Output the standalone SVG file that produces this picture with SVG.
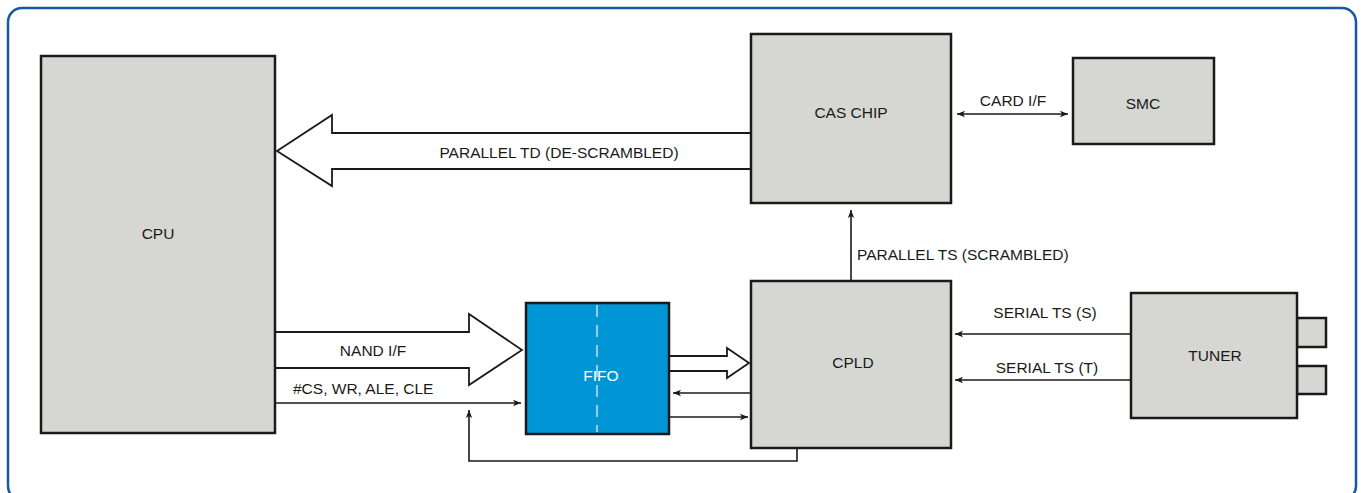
<svg xmlns="http://www.w3.org/2000/svg" width="1361" height="493" viewBox="0 0 1361 493">
<defs>
<style>
.box{fill:#d6d6d2;stroke:#1a1a1a;stroke-width:2.5}
.lbl{font-family:"Liberation Sans",Arial,sans-serif;font-size:15.5px;fill:#1a1a1a}
.mid{text-anchor:middle;dominant-baseline:central}
.wire{fill:none;stroke:#1a1a1a;stroke-width:1.6}
.big{fill:#fff;stroke:#1a1a1a;stroke-width:1.8;stroke-linejoin:miter}
</style>
<marker id="ah" viewBox="0 0 10 10" refX="10" refY="5" markerWidth="10" markerHeight="8" markerUnits="userSpaceOnUse" orient="auto-start-reverse">
<path d="M0,1 L10,5 L0,9 L2.5,5 Z" fill="#1a1a1a"/>
</marker>
</defs>
<rect x="8" y="8" width="1348" height="492" rx="14" fill="#fff" stroke="#155a9c" stroke-width="2.5"/>

<g id="connectors">
<path class="big" d="M751,133 L332,133 L332,115 L277,151 L332,186 L332,169 L751,169"/>
<path class="big" d="M275,332 L469,332 L469,314 L522,350 L469,385 L469,368 L275,368"/>
<path class="big" d="M669,356 L727,356 L727,348 L749,363 L727,378 L727,371 L669,371"/>
<line class="wire" x1="275" y1="403" x2="521" y2="403" marker-end="url(#ah)"/>
<polyline class="wire" points="797,448 797,461 469,461 469,410" marker-end="url(#ah)"/>
<line class="wire" x1="751" y1="393" x2="673" y2="393" marker-end="url(#ah)"/>
<line class="wire" x1="669" y1="417" x2="748" y2="417" marker-end="url(#ah)"/>
<line class="wire" x1="851" y1="280" x2="851" y2="210" marker-end="url(#ah)"/>
<line class="wire" x1="957" y1="114" x2="1068" y2="114" marker-start="url(#ah)" marker-end="url(#ah)"/>
<line class="wire" x1="1131" y1="334" x2="955" y2="334" marker-end="url(#ah)"/>
<line class="wire" x1="1131" y1="380" x2="955" y2="380" marker-end="url(#ah)"/>
<text class="lbl mid" x="559" y="152">PARALLEL TD (DE-SCRAMBLED)</text>
<text class="lbl mid" x="373" y="350">NAND I/F</text>
<text class="lbl" x="293" y="394">#CS, WR, ALE, CLE</text>
<text class="lbl" x="857" y="260">PARALLEL TS (SCRAMBLED)</text>
<text class="lbl mid" x="1013" y="100">CARD I/F</text>
<text class="lbl mid" x="1045" y="312">SERIAL TS (S)</text>
<text class="lbl mid" x="1047" y="367">SERIAL TS (T)</text>
</g>

<g id="cpu">
<rect class="box" x="41" y="56" width="234" height="377"/>
<text class="lbl mid" x="158" y="233">CPU</text>
</g>
<g id="cas-chip">
<rect class="box" x="751" y="34" width="200" height="169"/>
<text class="lbl mid" x="851" y="112">CAS CHIP</text>
</g>
<g id="smc">
<rect class="box" x="1073" y="58" width="141" height="86"/>
<text class="lbl mid" x="1143" y="103">SMC</text>
</g>
<g id="cpld">
<rect class="box" x="751" y="281" width="200" height="167"/>
<text class="lbl mid" x="853" y="362">CPLD</text>
</g>
<g id="tuner">
<rect class="box" x="1297" y="318" width="29" height="29"/>
<rect class="box" x="1297" y="366" width="29" height="28"/>
<rect class="box" x="1131" y="293" width="166" height="125"/>
<text class="lbl mid" x="1215" y="355">TUNER</text>
</g>
<g id="fifo">
<rect x="526" y="303" width="143" height="131" fill="#0096d6" stroke="#1a1a1a" stroke-width="2.5"/>
<line x1="597" y1="305" x2="597" y2="432" stroke="#9ccbe8" stroke-width="2" stroke-dasharray="12,8"/>
<text class="lbl mid" x="601" y="375" style="fill:#fff">FIFO</text>
</g>
</svg>
